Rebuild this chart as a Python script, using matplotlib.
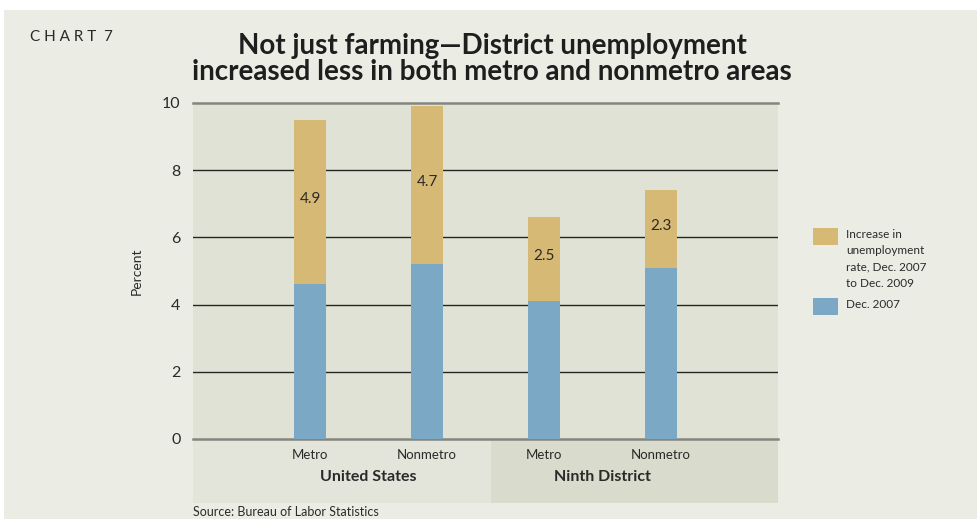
import numpy as np
import matplotlib
matplotlib.use("Agg")
from matplotlib import pyplot as plt
from matplotlib.patches import Rectangle
from matplotlib.transforms import blended_transform_factory

# data
categories = ["Metro", "Nonmetro", "Metro", "Nonmetro"]
groups = ["United States", "Ninth District"]
dec_2007 = [4.6, 5.2, 4.1, 5.1]
increase = [4.9, 4.7, 2.5, 2.3]
increase_labels = ["4.9", "4.7", "2.5", "2.3"]
yticks = [0, 2, 4, 6, 8, 10]
legend_labels = ["Increase in\nunemployment\nrate, Dec. 2007\nto Dec. 2009", "Dec. 2007"]

YELLOW = "#D6B974"
BLUE = "#7BA8C4"
FIG_BG = "#EBEDE5"
PLOT_BG = "#DFE2D4"
BAND_LEFT = "#E3E5DB"
BAND_RIGHT = "#D9DCCC"
TEXT = "#2a2a2a"

plt.rcParams["font.family"] = ["Lato", "DejaVu Sans"]

W, H = 978, 519
fig = plt.figure(figsize=(W / 100, H / 100), dpi=100)
fig.patch.set_facecolor("white")
fig.add_artist(Rectangle((4 / W, 0), 1, 1 - 10 / H, transform=fig.transFigure,
                         facecolor=FIG_BG, edgecolor="none", zorder=-10))

left, right, top, bottom = 193, 778, 103, 439
ax = fig.add_axes([left / W, 1 - bottom / H, (right - left) / W, (bottom - top) / H])
ax.set_facecolor(PLOT_BG)

x = np.arange(len(categories))
width = 0.28
ax.bar(x, dec_2007, width, color=BLUE, zorder=3)
ax.bar(x, increase, width, bottom=dec_2007, color=YELLOW, zorder=3)

for xi, b, v, lab in zip(x, dec_2007, increase, increase_labels):
    ax.text(xi, b + v / 2 + 0.1, lab, ha="center", va="center", fontsize=11,
            color=TEXT, zorder=4)

ax.set_xlim(-1, 4)
ax.set_ylim(0, 10)
for yv in yticks:
    if yv in (0, 10):
        ax.axhline(yv, color="#858580", lw=1.8, zorder=2, clip_on=False)
    else:
        ax.axhline(yv, color="#262626", lw=1.0, zorder=2)

ax.set_yticks(yticks)
ax.set_yticklabels([str(v) for v in yticks], fontsize=11.5, color=TEXT)
ax.set_xticks(x)
ax.set_xticklabels(categories, fontsize=9.5, color=TEXT)
ax.tick_params(axis="both", length=0)
ax.tick_params(axis="y", pad=9)
ax.tick_params(axis="x", pad=7)
for s in ax.spines.values():
    s.set_visible(False)

ax.set_ylabel("Percent", fontsize=10, color=TEXT, labelpad=14)

# lower category band
band_h = (503 - bottom) / (bottom - top)
split = 1.55
tr = blended_transform_factory(ax.transData, ax.transAxes)
ax.add_patch(Rectangle((-1, -band_h), split + 1, band_h, transform=tr, facecolor=BAND_LEFT,
                       edgecolor="none", clip_on=False, zorder=0))
ax.add_patch(Rectangle((split, -band_h), 4 - split, band_h, transform=tr, facecolor=BAND_RIGHT,
                       edgecolor="none", clip_on=False, zorder=0))
for gx, g in zip([0.5, 2.5], groups):
    ax.text(gx, -(477 - bottom) / (bottom - top), g, transform=tr, ha="center", va="center",
            fontsize=11.5, fontweight="bold", color=TEXT)

# legend, drawn by hand
for col, lab, ytop in zip([YELLOW, BLUE], legend_labels, [228, 298]):
    fig.add_artist(Rectangle((813 / W, 1 - (ytop + 17) / H), 25 / W, 17 / H,
                             transform=fig.transFigure, facecolor=col, edgecolor="none"))
    fig.text(846 / W, 1 - (ytop + 1) / H, lab, fontsize=8.5, color=TEXT, va="top",
             ha="left", linespacing=1.6)

fig.text(30 / W, 1 - 37 / H, "C H A R T  7", fontsize=11, color=TEXT, va="center")
fig.text(492 / W, 1 - 59 / H, "Not just farming\u2014District unemployment\nincreased less in both metro and nonmetro areas",
         fontsize=20, fontweight="bold", color="#1e1e1e", ha="center", va="center",
         linespacing=1.0)
fig.text(193 / W, 1 - 512 / H, "Source: Bureau of Labor Statistics", fontsize=9,
         color=TEXT, va="center")

fig.savefig("out.png", dpi=100, facecolor=fig.get_facecolor())
